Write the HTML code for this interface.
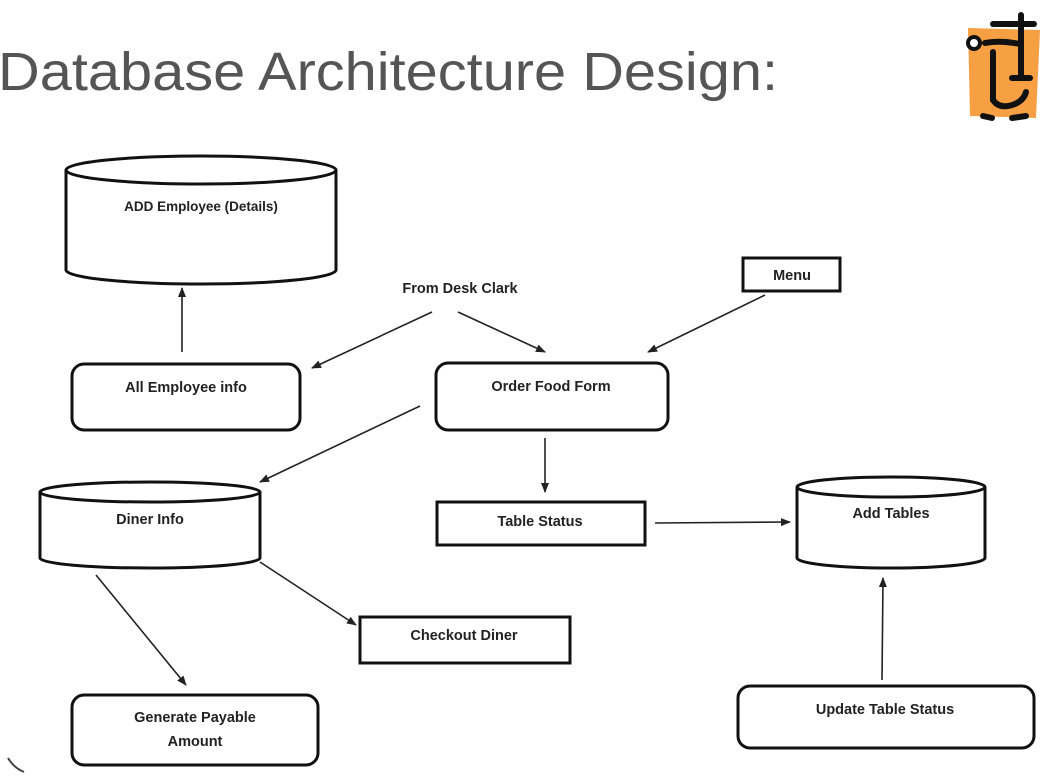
<!DOCTYPE html>
<html><head><style>
html,body{margin:0;padding:0;background:#fff;}
svg{display:block;}
text{font-family:"Liberation Sans",sans-serif;}
.l{font-size:14.5px;font-weight:bold;fill:#222;text-anchor:middle;}
</style></head><body>
<svg width="1048" height="777" viewBox="0 0 1048 777" xmlns="http://www.w3.org/2000/svg">
<defs><marker id="a" markerWidth="10" markerHeight="10" refX="9" refY="5" orient="auto" markerUnits="userSpaceOnUse"><path d="M0,1 L10,5 L0,9 Z" fill="#222"/></marker></defs>
<text x="-2" y="90" font-size="54" fill="#555" textLength="780" lengthAdjust="spacingAndGlyphs">Database Architecture Design:</text>
<!-- logo -->
<polygon points="968,28 1040,30 1036,118 970,116" fill="#f7a043"/>
<g stroke="#111" stroke-width="6" fill="none" stroke-linecap="round">
<line x1="993" y1="24" x2="1034" y2="24"/>
<line x1="1021" y1="15" x2="1021" y2="78"/>
<line x1="1012" y1="78" x2="1030" y2="78"/>
<path d="M985,43 Q1000,40 1020,44"/>
<path d="M993,52 L993,100 Q1000,110 1015,104 Q1024,100 1026,92"/>
<line x1="983" y1="116" x2="992" y2="118"/><line x1="1012" y1="118" x2="1026" y2="116"/>
</g>
<circle cx="974" cy="43" r="6" fill="#fff" stroke="#111" stroke-width="4"/>
<g stroke="#111" stroke-width="3" fill="#fff">
<path d="M66,170 L66,270 A135,14 0 0 0 336,270 L336,170"/>
<ellipse cx="201" cy="170" rx="135" ry="14"/>
<rect x="72" y="364" width="228" height="66" rx="12"/>
<rect x="743" y="258" width="97" height="33"/>
<rect x="436" y="363" width="232" height="67" rx="12"/>
<rect x="437" y="502" width="208" height="43"/>
<path d="M40,492 L40,558 A110,10 0 0 0 260,558 L260,492"/>
<ellipse cx="150" cy="492" rx="110" ry="10"/>
<path d="M797,487 L797,558 A94,10 0 0 0 985,558 L985,487"/>
<ellipse cx="891" cy="487" rx="94" ry="10"/>
<rect x="360" y="617" width="210" height="46"/>
<rect x="72" y="695" width="246" height="70" rx="12"/>
<rect x="738" y="686" width="296" height="62" rx="12"/>
</g>
<g stroke="#222" stroke-width="1.6" marker-end="url(#a)">
<line x1="182" y1="352" x2="182" y2="288"/>
<line x1="432" y1="312" x2="312" y2="368"/>
<line x1="458" y1="312" x2="545" y2="352"/>
<line x1="765" y1="295" x2="648" y2="352"/>
<line x1="420" y1="406" x2="260" y2="482"/>
<line x1="545" y1="438" x2="545" y2="492"/>
<line x1="655" y1="523" x2="790" y2="522"/>
<line x1="96" y1="575" x2="186" y2="685"/>
<line x1="260" y1="562" x2="356" y2="625"/>
<line x1="882" y1="680" x2="883" y2="578"/>
</g>
<text class="l" x="201" y="211" style="font-size:13.5px">ADD Employee (Details)</text>
<text class="l" x="186" y="392">All Employee info</text>
<text class="l" x="460" y="293">From Desk Clark</text>
<text class="l" x="792" y="280">Menu</text>
<text class="l" x="551" y="391">Order Food Form</text>
<text class="l" x="540" y="526">Table Status</text>
<text class="l" x="150" y="524">Diner Info</text>
<text class="l" x="891" y="518">Add Tables</text>
<text class="l" x="464" y="640">Checkout Diner</text>
<text class="l" x="195" y="722">Generate Payable</text>
<text class="l" x="195" y="746">Amount</text>
<text class="l" x="885" y="714">Update Table Status</text>
<path d="M8,758 Q14,768 24,772" stroke="#444" stroke-width="2" fill="none"/>
</svg>
</body></html>
